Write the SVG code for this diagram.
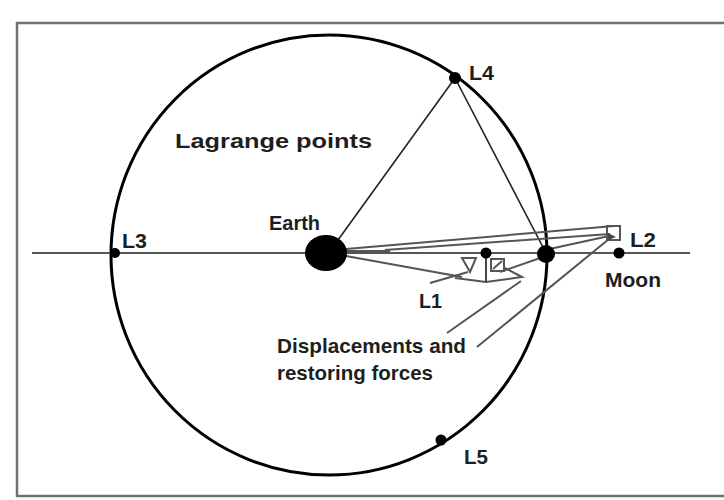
<svg xmlns="http://www.w3.org/2000/svg" width="724" height="500" viewBox="0 0 724 500">
<style>
.lbl{font-family:"Liberation Sans",Arial,sans-serif;font-size:21px;fill:#1e1e1e}
.b{font-weight:bold}
.thin{stroke:#222;stroke-width:1.6;fill:none}
.gray{stroke:#555;stroke-width:2;fill:none}
.dot{fill:#000}
</style>
<rect width="724" height="500" fill="#fff"/>
<g id="frame"><path d="M17,497 L17,23 L730,23" stroke="#707070" stroke-width="2.5" fill="none"/><path d="M17,496 L730,496" stroke="#707070" stroke-width="2.5"/></g>
<g id="orbit"><ellipse cx="329" cy="255" rx="218" ry="220" stroke="#000" stroke-width="3" fill="none"/></g>
<g id="connectors">
<line x1="32" y1="253" x2="690" y2="253" stroke="#555" stroke-width="2"/>
<line class="thin" x1="338" y1="240" x2="455" y2="78"/>
<line class="thin" x1="455" y1="78" x2="546" y2="253"/>
<line class="gray" x1="346" y1="249" x2="614" y2="226"/>
<line class="gray" x1="385" y1="250" x2="610" y2="234"/>
<line class="gray" x1="346" y1="251" x2="390" y2="251" stroke-width="4"/>
<line class="gray" x1="346" y1="256" x2="462" y2="277"/>
<line class="gray" x1="545" y1="250" x2="609" y2="236"/>
<line class="gray" x1="477" y1="347" x2="609" y2="239"/>
<line class="gray" x1="447" y1="333" x2="521" y2="281"/>
<line class="gray" x1="430" y1="283" x2="468" y2="272"/>
<line class="gray" x1="500" y1="272" x2="543" y2="257"/>
<rect class="gray" x="607" y="226" width="13" height="14"/>
<path d="M608,233 L616,237 L608,240 Z" fill="#444"/>
<path class="gray" d="M455,278 L486,282 L522,277 L505,268"/>
<path class="gray" d="M462,258 L476,258 L470,272 Z"/>
<line x1="486" y1="253" x2="486" y2="282" stroke="#333" stroke-width="1.8"/>
<rect class="gray" x="491" y="259" width="13" height="12" stroke-width="1.4"/>
<line class="gray" x1="493" y1="269" x2="502" y2="261" stroke-width="1.2"/>
</g>
<g id="earth"><ellipse cx="326" cy="253" rx="21" ry="18" class="dot"/><text class="lbl b" x="269" y="230" textLength="51" lengthAdjust="spacingAndGlyphs">Earth</text></g>
<g id="moon"><circle cx="546" cy="254" r="9" class="dot"/></g>
<g id="L1"><circle cx="486" cy="253" r="5.5" class="dot"/><text class="lbl b" x="419" y="308" textLength="23" lengthAdjust="spacingAndGlyphs">L1</text></g>
<g id="L2"><circle cx="619" cy="253" r="5.5" class="dot"/><text class="lbl b" x="630" y="247" textLength="26" lengthAdjust="spacingAndGlyphs">L2</text><text class="lbl b" x="605" y="287" font-size="19" textLength="56" lengthAdjust="spacingAndGlyphs">Moon</text></g>
<g id="L3"><circle cx="115" cy="253" r="5" class="dot"/><text class="lbl b" x="122" y="248" textLength="25" lengthAdjust="spacingAndGlyphs">L3</text></g>
<g id="L4"><circle cx="455" cy="78" r="6" class="dot"/><text class="lbl b" x="469" y="80" textLength="25" lengthAdjust="spacingAndGlyphs">L4</text></g>
<g id="L5"><circle cx="441" cy="440" r="5.5" class="dot"/><text class="lbl b" x="464" y="464" textLength="24" lengthAdjust="spacingAndGlyphs">L5</text></g>
<g id="title"><text class="lbl b" x="175" y="148" font-size="24" fill="#333" textLength="197" lengthAdjust="spacingAndGlyphs">Lagrange points</text></g>
<g id="caption"><text class="lbl b" x="277" y="353" font-size="20" fill="#333" textLength="189" lengthAdjust="spacingAndGlyphs">Displacements and</text><text class="lbl b" x="277" y="380" font-size="20" fill="#333" textLength="156" lengthAdjust="spacingAndGlyphs">restoring forces</text></g>
</svg>
